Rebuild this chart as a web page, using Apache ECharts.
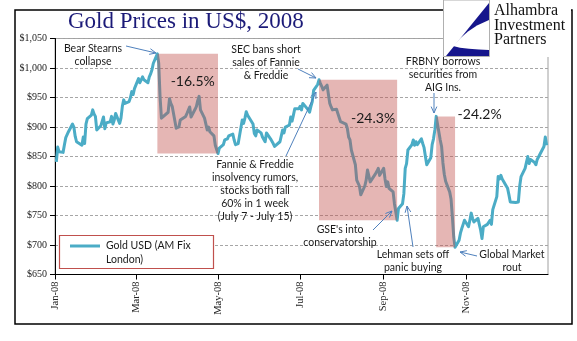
<!DOCTYPE html>
<html>
<head>
<meta charset="utf-8">
<script src="https://cdn.jsdelivr.net/npm/echarts@6/dist/echarts.min.js"></script>
<style>
  html, body { margin: 0; padding: 0; background: #fff; }
  #chart { width: 577px; height: 341px; }
</style>
</head>
<body>
<div id="chart"></div>
<script>
// London gold fix (AM), US$ per ounce, 2008
const fixDates = [
  '2008-01-02','2008-01-03','2008-01-04','2008-01-07','2008-01-08','2008-01-09','2008-01-10','2008-01-11','2008-01-14','2008-01-15','2008-01-16','2008-01-17','2008-01-18','2008-01-21','2008-01-22','2008-01-23','2008-01-24','2008-01-25','2008-01-28','2008-01-29','2008-01-30','2008-01-31',
  '2008-02-01','2008-02-04','2008-02-05','2008-02-06','2008-02-07','2008-02-08','2008-02-11','2008-02-12','2008-02-13','2008-02-14','2008-02-15','2008-02-18','2008-02-19','2008-02-20','2008-02-21','2008-02-22','2008-02-25','2008-02-26','2008-02-27','2008-02-28','2008-02-29',
  '2008-03-03','2008-03-04','2008-03-05','2008-03-06','2008-03-07','2008-03-10','2008-03-11','2008-03-12','2008-03-13','2008-03-14','2008-03-17','2008-03-18','2008-03-19','2008-03-20','2008-03-25','2008-03-26','2008-03-27','2008-03-28','2008-03-31',
  '2008-04-01','2008-04-02','2008-04-03','2008-04-04','2008-04-07','2008-04-08','2008-04-09','2008-04-10','2008-04-11','2008-04-14','2008-04-15','2008-04-16','2008-04-17','2008-04-18','2008-04-21','2008-04-22','2008-04-23','2008-04-24','2008-04-25','2008-04-28','2008-04-29','2008-04-30',
  '2008-05-01','2008-05-02','2008-05-05','2008-05-06','2008-05-07','2008-05-08','2008-05-09','2008-05-12','2008-05-13','2008-05-14','2008-05-15','2008-05-16','2008-05-19','2008-05-20','2008-05-21','2008-05-22','2008-05-23','2008-05-27','2008-05-28','2008-05-29','2008-05-30',
  '2008-06-02','2008-06-03','2008-06-04','2008-06-05','2008-06-06','2008-06-09','2008-06-10','2008-06-11','2008-06-12','2008-06-13','2008-06-16','2008-06-17','2008-06-18','2008-06-19','2008-06-20','2008-06-23','2008-06-24','2008-06-25','2008-06-26','2008-06-27','2008-06-30',
  '2008-07-01','2008-07-02','2008-07-03','2008-07-04','2008-07-07','2008-07-08','2008-07-09','2008-07-10','2008-07-11','2008-07-14','2008-07-15','2008-07-16','2008-07-17','2008-07-18','2008-07-21','2008-07-22','2008-07-23','2008-07-24','2008-07-25','2008-07-28','2008-07-29','2008-07-30','2008-07-31',
  '2008-08-01','2008-08-04','2008-08-05','2008-08-06','2008-08-07','2008-08-08','2008-08-11','2008-08-12','2008-08-13','2008-08-14','2008-08-15','2008-08-18','2008-08-19','2008-08-20','2008-08-21','2008-08-22','2008-08-26','2008-08-27','2008-08-28','2008-08-29',
  '2008-09-01','2008-09-02','2008-09-03','2008-09-04','2008-09-05','2008-09-08','2008-09-09','2008-09-10','2008-09-11','2008-09-12','2008-09-15','2008-09-16','2008-09-17','2008-09-18','2008-09-19','2008-09-22','2008-09-23','2008-09-24','2008-09-25','2008-09-26','2008-09-29','2008-09-30',
  '2008-10-01','2008-10-02','2008-10-03','2008-10-06','2008-10-07','2008-10-08','2008-10-09','2008-10-10','2008-10-13','2008-10-14','2008-10-15','2008-10-16','2008-10-17','2008-10-20','2008-10-21','2008-10-22','2008-10-23','2008-10-24','2008-10-27','2008-10-28','2008-10-29','2008-10-30','2008-10-31',
  '2008-11-03','2008-11-04','2008-11-05','2008-11-06','2008-11-07','2008-11-10','2008-11-11','2008-11-12','2008-11-13','2008-11-14','2008-11-17','2008-11-18','2008-11-19','2008-11-20','2008-11-21','2008-11-24','2008-11-25','2008-11-26','2008-11-27','2008-11-28',
  '2008-12-01','2008-12-02','2008-12-03','2008-12-04','2008-12-05','2008-12-08','2008-12-09','2008-12-10','2008-12-11','2008-12-12','2008-12-15','2008-12-16','2008-12-17','2008-12-18','2008-12-19','2008-12-22','2008-12-23','2008-12-24','2008-12-29','2008-12-30','2008-12-31'
];
const fixUsd = [
  841,866,858,857,870,882,887,892,905,900,884,875,878,869,883,872,905,914,920,929,922,918,
  895,902,904,917,897,907,909,918,905,912,923,906,915,935,946,940,943,950,960,955,965,
  982,975,978,985,980,975,985,990,997,1008,1024,1008,951,915,925,948,940,935,898,
  896,900,912,910,918,923,925,934,917,930,935,945,952,929,915,917,895,900,892,885,869,862,
  855,864,870,878,875,880,885,888,878,870,868,872,912,906,915,926,920,905,889,885,895,
  890,883,880,875,890,880,878,872,867,870,875,885,895,890,900,903,917,910,920,931,931,
  935,929,940,943,929,925,935,943,962,972,980,974,969,963,971,955,940,934,929,930,923,923,909,
  912,905,898,883,878,861,836,810,805,800,785,800,810,827,830,807,821,825,830,818,
  830,812,799,807,796,790,770,756,742,762,770,787,830,838,861,870,878,869,875,870,880,872,
  865,850,836,848,870,880,895,918,878,867,839,820,808,790,778,748,714,696,708,720,728,735,742,
  731,742,754,745,739,745,735,725,711,731,735,738,742,735,760,782,816,812,818,812,
  800,796,785,773,773,772,772,773,800,816,830,840,850,838,845,840,836,845,867,883,869
];

// Price axis and date axis ticks
const yMin = 650, yMax = 1050, yStep = 50;
const xTickDates = ['2008-01-01','2008-03-01','2008-05-01','2008-07-01','2008-09-01','2008-11-01'];
const monthNames = ['Jan','Feb','Mar','Apr','May','Jun','Jul','Aug','Sep','Oct','Nov','Dec'];

// Sell-off windows: peak date/price to trough date/price
const dropStart = ['2008-03-17','2008-07-15','2008-10-10'];
const dropEnd   = ['2008-05-01','2008-09-11','2008-10-24'];
const dropHigh  = [1024, 980, 918];
const dropLow   = [855, 742, 696];
const dropLabelOffset = [[5, 16], [15, 27], [34, -14]];

// Dates are placed on a day-count axis starting 1 Jan 2008
const DAY0 = Date.UTC(2008, 0, 1);
function dayOf(d) { const p = d.split('-'); return Math.round((Date.UTC(+p[0], +p[1] - 1, +p[2]) - DAY0) / 86400000); }
function dayLabel(n) { const d = new Date(DAY0 + Math.round(n) * 86400000); return monthNames[d.getUTCMonth()] + '-' + String(d.getUTCFullYear()).slice(2); }

const chart = echarts.init(document.getElementById('chart'), null, { renderer: 'canvas' });

const ANNO_FONT = 'Lato, "Open Sans", sans-serif';
const ARROW = '#4F81BD';

function arrow(x1, y1, x2, y2) {
  const a = Math.atan2(y2 - y1, x2 - x1), L = 7, w = 0.42;
  return [
    { type: 'line', z: 20, shape: { x1, y1, x2, y2 }, style: { stroke: ARROW, lineWidth: 1 } },
    { type: 'polyline', z: 20, shape: { points: [
        [x2 - L * Math.cos(a - w), y2 - L * Math.sin(a - w)], [x2, y2],
        [x2 - L * Math.cos(a + w), y2 - L * Math.sin(a + w)]] },
      style: { stroke: ARROW, lineWidth: 1, fill: null } }
  ];
}
function note(x, y, text) {
  return { type: 'text', z: 20, x, y, style: {
    text, fill: '#1a1a1a', font: '10.5px ' + ANNO_FONT, align: 'center', verticalAlign: 'middle', lineHeight: 13
  } };
}

const dropAreas = dropStart.map((d, i) => {
  const pct = ((dropLow[i] / dropHigh[i] - 1) * 100).toFixed(1) + '%';
  return [
    { xAxis: dayOf(d), yAxis: dropHigh[i],
      label: { show: true, position: 'insideTop', offset: dropLabelOffset[i], formatter: pct,
               fontFamily: ANNO_FONT, fontSize: 14, color: '#1a1a1a' } },
    { xAxis: dayOf(dropEnd[i]), yAxis: dropLow[i] }
  ];
});

const graphics = [
  // outer frame
  { type: 'rect', z: 0, shape: { x: 15, y: 10, width: 557, height: 314 },
    style: { fill: null, stroke: '#000', lineWidth: 1.5 } },
  // logo panel
  { type: 'rect', z: 30, shape: { x: 443, y: 0, width: 128, height: 57 },
    style: { fill: '#fff', stroke: null } },
  { type: 'rect', z: 31, shape: { x: 443.5, y: 0, width: 46, height: 56.5 },
    style: { fill: '#fff', stroke: '#b0b0b0', lineWidth: 1 } },
  { type: 'polygon', z: 32, shape: { points: [[489, 3], [446, 56], [489, 56]] },
    style: { fill: '#16168C' } },
  { type: 'polygon', z: 33, shape: { points: [
      [453, 46], [460, 38.5], [468, 31.5], [477, 25.5], [489, 20],
      [489, 50], [479, 49.5], [469, 48.8], [460, 47.8]] },
    style: { fill: '#fff' } },
  { type: 'text', z: 32, x: 494, y: 4, style: { text: 'Alhambra\nInvestment\nPartners', fill: '#111',
      font: '16px "Liberation Serif", serif', lineHeight: 14.5 } },
  // legend
  { type: 'rect', z: 10, shape: { x: 59.5, y: 235.5, width: 154, height: 33 },
    style: { fill: '#fff', stroke: '#C0504D', lineWidth: 1.2 } },
  { type: 'line', z: 11, shape: { x1: 70, y1: 246, x2: 100, y2: 246 },
    style: { stroke: '#4BACC6', lineWidth: 3 } },
  { type: 'text', z: 11, x: 106, y: 239, style: { text: 'Gold USD (AM Fix\nLondon)', fill: '#1a1a1a',
      font: '10.5px ' + ANNO_FONT, lineHeight: 14 } },
  // event notes
  note(93, 55, 'Bear Stearns\ncollapse'),
  ...arrow(126, 46, 156, 53),
  note(266, 62.5, 'SEC bans short\nsales of Fannie\n& Freddie'),
  ...arrow(298, 69, 316, 78),
  note(443, 75, 'FRBNY borrows\nsecurities from\nAIG Ins.'),
  ...arrow(434, 93, 434, 113),
  note(255, 191, 'Fannie & Freddie\ninsolvency rumors,\nstocks both fall\n60% in 1 week\n(July 7 - July 15)'),
  ...arrow(286, 156, 316, 92),
  note(340, 236, "GSE's into\nconservatorship"),
  ...arrow(373, 230, 392, 211),
  note(413, 261.5, 'Lehman sets off\npanic buying'),
  ...arrow(413, 247, 407, 206),
  note(512, 261.5, 'Global Market\nrout'),
  ...arrow(477, 256, 460, 252)
];

chart.setOption({
  animation: false,
  backgroundColor: '#fff',
  title: {
    text: 'Gold Prices in US$, 2008', left: 68, top: 10, padding: 0,
    textStyle: { fontFamily: '"Liberation Serif", serif', fontSize: 23, fontWeight: 'normal', color: '#1B1A78' }
  },
  grid: { left: 55, right: 29, top: 38.5, bottom: 66.5, show: true, borderColor: '#a0a0a0', borderWidth: 1 },
  xAxis: {
    type: 'value', min: 0, max: 366,
    axisLine: { show: true, onZero: false, lineStyle: { color: '#000', width: 1 } },
    axisTick: { show: true, length: 5, lineStyle: { color: '#000' }, customValues: xTickDates.map(dayOf) },
    axisLabel: {
      customValues: xTickDates.map(dayOf), rotate: 90, margin: 7,
      fontFamily: '"Liberation Serif", serif', fontSize: 10.5, color: '#222',
      formatter: v => dayLabel(v)
    },
    splitLine: { show: false }
  },
  yAxis: {
    type: 'value', min: yMin, max: yMax, interval: yStep,
    axisLine: { show: true, lineStyle: { color: '#000', width: 1 } },
    axisTick: { show: true, length: 5, lineStyle: { color: '#000' } },
    axisLabel: {
      margin: 8, fontFamily: '"Liberation Serif", serif', fontSize: 10, color: '#222',
      formatter: v => '$' + v.toLocaleString('en-US')
    },
    splitLine: { show: true, lineStyle: { color: '#a6a6a6', type: [3, 2], width: 1 } }
  },
  series: [
    {
      name: 'Gold USD (AM Fix London)', type: 'line', z: 2,
      data: fixDates.map((d, i) => [dayOf(d), fixUsd[i]]),
      showSymbol: false, symbol: 'none',
      lineStyle: { color: '#4BACC6', width: 3, join: 'round' },
      itemStyle: { color: '#4BACC6' }
    },
    {
      name: 'sell-off windows', type: 'line', z: 5, data: [],
      markArea: { silent: true, z: 5, itemStyle: { color: 'rgba(192,80,77,0.42)' }, data: dropAreas }
    }
  ],
  graphic: graphics
});
</script>
</body>
</html>
